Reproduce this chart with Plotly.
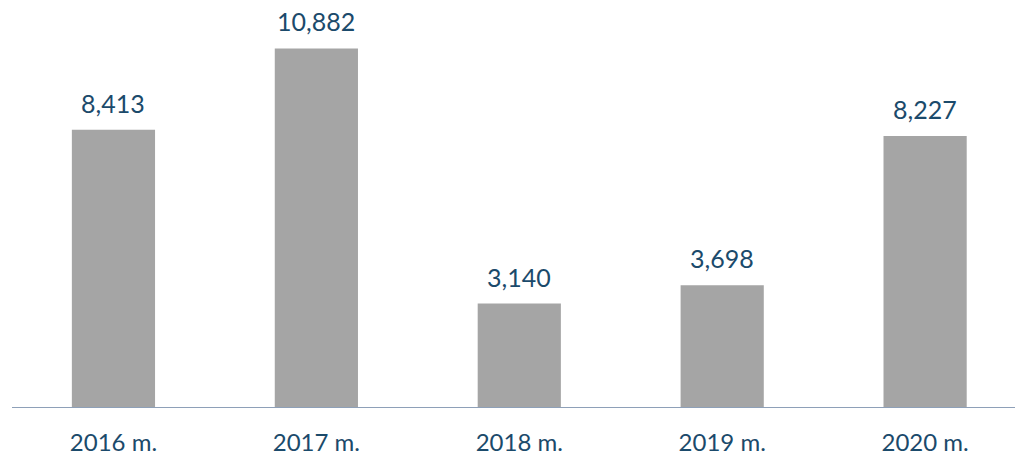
import plotly.graph_objects as go

categories = ["2016 m.", "2017 m.", "2018 m.", "2019 m.", "2020 m."]
values = [8413, 10882, 3140, 3698, 8227]
value_labels = ["8,413", "10,882", "3,140", "3,698", "8,227"]

TEXT_COLOR = "#1B4A6B"
BAR_COLOR = "#A5A5A5"
FONT = "Lato, 'Open Sans', sans-serif"

fig = go.Figure()
fig.add_trace(go.Bar(
    x=list(range(len(categories))),
    y=values,
    width=0.41,
    marker=dict(color=BAR_COLOR, line=dict(width=0)),
    hoverinfo="skip",
))

for i, (v, lab) in enumerate(zip(values, value_labels)):
    fig.add_annotation(
        x=i, y=v, text=lab, showarrow=False,
        xanchor="center", yanchor="bottom", yshift=10,
        font=dict(family=FONT, size=25, color=TEXT_COLOR),
    )

fig.update_layout(
    width=1015, height=456,
    margin=dict(l=12, r=0, t=0, b=46),
    paper_bgcolor="white", plot_bgcolor="white",
    showlegend=False,
    font=dict(family=FONT, size=24, color=TEXT_COLOR),
    xaxis=dict(
        range=[-0.5, 4.443],
        tickmode="array",
        tickvals=list(range(len(categories))),
        ticktext=categories,
        showgrid=False, zeroline=False,
        showline=True, linecolor="#8EA0B8", linewidth=1,
        ticks="", ticklabelstandoff=14,
        tickfont=dict(family=FONT, size=24, color=TEXT_COLOR),
        fixedrange=True,
    ),
    yaxis=dict(
        range=[0, 12350],
        visible=False, showgrid=False, zeroline=False,
        fixedrange=True,
    ),
)

html = fig.to_html(full_html=True, include_plotlyjs=True,
                   config={"displayModeBar": False})
html = html.replace("<head>", "<head><style>html,body{margin:0;padding:0;overflow:hidden;}</style>", 1)
with open("out.html", "w", encoding="utf-8") as f:
    f.write(html)
